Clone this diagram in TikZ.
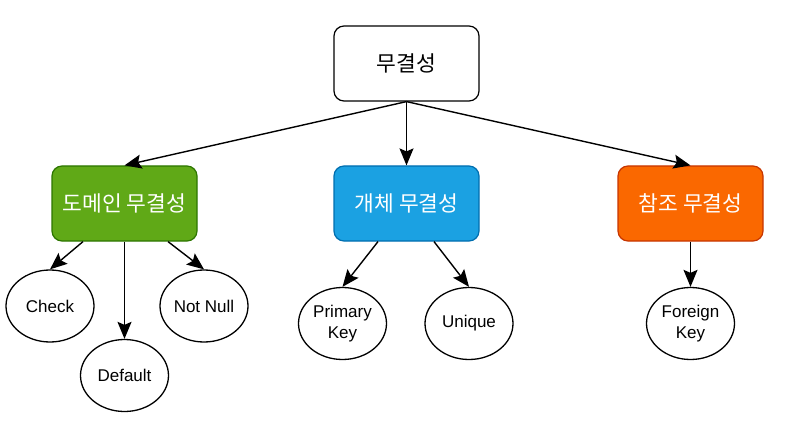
\documentclass[tikz,border=0pt]{standalone}
\usepackage{fontspec}
\setmainfont{Liberation Sans}
\newfontfamily\krfont{Noto Sans CJK KR}
\usepackage[]{xcolor}
\usetikzlibrary{shapes.geometric,arrows.meta}

\definecolor{domainfill}{HTML}{60A917}
\definecolor{domainline}{HTML}{2D7600}
\definecolor{entityfill}{HTML}{1BA1E2}
\definecolor{entityline}{HTML}{006EAF}
\definecolor{reffill}{HTML}{FA6800}
\definecolor{refline}{HTML}{C73500}

\begin{document}
\begin{tikzpicture}[
            x=1pt, y=-1pt,
            node distance=140pt,
            group/.style={rectangle, draw, rounded corners=10pt, line width=1.2pt, minimum height=75pt, minimum width=145pt, text=white, font=\krfont\fontsize{21.5}{25}\selectfont},
            leaf/.style={ellipse, draw, fill=white, line width=1.3pt, minimum width=88pt, minimum height=72pt, inner sep=0pt, align=center, font=\fontsize{17}{20.5}\selectfont},
            arrow/.style={-{Stealth[length=17pt,width=14pt,inset=3pt]}, line width=1.4pt}
        ]
            \useasboundingbox (0,0) rectangle (786,422);

            \node[group, fill=white, draw=black, text=black] (root) at (406.5,63.5) {무결성};
            \node[group, fill=entityfill, draw=entityline, below of=root] (entity) {개체 무결성};
            \node[group, fill=domainfill, draw=domainline, left of=entity, node distance=282pt] (domain) {도메인 무결성};
            \node[group, fill=reffill, draw=refline, right of=entity, node distance=284pt] (reference) {참조 무결성};

            \node[leaf] (check) at ([shift={(-74.5,102.5)}]domain) {Check};
            \node[leaf] (default) at ([shift={(0,172)}]domain) {Default};
            \node[leaf] (notnull) at ([shift={(79.5,102.5)}]domain) {Not Null};
            \node[leaf] (primary) at ([shift={(-64,120)}]entity) {Primary\\Key};
            \node[leaf] (unique) at ([shift={(62.5,120)}]entity) {Unique};
            \node[leaf] (foreign) at ([shift={(0,120)}]reference) {Foreign\\Key};

            \draw[arrow] (root.south) -- (domain.north);
            \draw[arrow] (root.south) -- (entity.north);
            \draw[arrow] (root.south) -- (reference.north);

            \draw[arrow] ([xshift=-41.5pt]domain.south) -- (check.north);
            \draw[arrow] (domain.south) -- (default.north);
            \draw[arrow] ([xshift=43.5pt]domain.south) -- (notnull.north);
            \draw[arrow] ([xshift=-28.5pt]entity.south) -- (primary.north);
            \draw[arrow] ([xshift=27.5pt]entity.south) -- (unique.north);
            \draw[arrow] (reference.south) -- (foreign.north);
        \end{tikzpicture}
\end{document}
